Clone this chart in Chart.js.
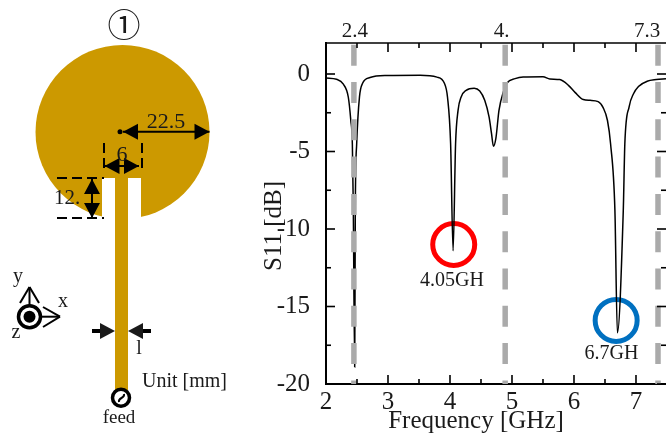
<!DOCTYPE html>
<html>
<head>
<meta charset="utf-8">
<style>
html,body{margin:0;padding:0;background:#fff;}
#wrap{width:666px;height:441px;position:relative;overflow:hidden;}
</style>
<script src="https://cdn.jsdelivr.net/npm/chart.js@4"></script>
</head>
<body>
<div id="wrap"><canvas id="grafico" width="666" height="441"></canvas></div>
<script>
// curva S11
var freqs = [2.0,2.17,2.28,2.36,2.40,2.425,2.44,2.463,2.473,2.495,2.54,2.59,2.71,2.98,3.52,3.79,3.91,3.96,4.01,4.05,4.09,4.13,4.18,4.26,4.39,4.48,4.56,4.63,4.67,4.70,4.74,4.79,4.86,4.92,5.05,5.18,5.5,5.61,5.77,5.91,6.02,6.15,6.26,6.39,6.47,6.54,6.59,6.66,6.70,6.795,6.82,6.89,6.96,7.04,7.18,7.33,7.484];
var s11 = [-0.26,-0.34,-0.66,-1.5,-3,-4.5,-8.5,-18.9,-8.5,-4.5,-1.48,-0.6,-0.23,-0.1,-0.08,-0.2,-0.6,-1.5,-4.5,-11.4,-4.5,-2.35,-1.48,-1.05,-0.92,-1.1,-1.7,-2.77,-3.85,-4.66,-4.15,-2.34,-1.16,-0.58,-0.3,-0.19,-0.17,-0.32,-0.36,-0.73,-1.2,-1.65,-1.7,-1.78,-2.17,-3,-4.5,-8.8,-16.7,-8.8,-4.5,-2.1,-1.27,-0.8,-0.47,-0.36,-0.3];
var bandFreqs = [2.45,4.89,7.355];
var bandLabels = ["2.4","4.","7.3"];
var markFreqs = [4.06,6.68];
var markDb = [-11,-15.9];
var markColors = ["#ff0000","#0070c0"];
var markLabels = ["4.05GH","6.7GH"];
var xMayor = [2,3,4,5,6,7];
var xMenor = [2.5,3.5,4.5,5.5,6.5];
var yMayor = [0,-5,-10,-15,-20];
var yMenor = [-2.5,-7.5,-12.5,-17.5];

var serif = "'Liberation Serif'";
var texto = "#1a1a1a";
var oro = "#cc9900";

function escribe(ctx,s,x,y,size,align){
    ctx.font = size+"px "+serif;
    ctx.fillStyle = texto;
    ctx.textAlign = align||"center";
    ctx.textBaseline = "alphabetic";
    ctx.fillText(s,x,y);
}
function flecha(ctx,x1,y1,x2,y2,largo,ancho){
    // punta rellena en (x2,y2)
    var a = Math.atan2(y2-y1,x2-x1);
    ctx.beginPath();
    ctx.moveTo(x2,y2);
    ctx.lineTo(x2-largo*Math.cos(a)+ancho/2*Math.sin(a),y2-largo*Math.sin(a)-ancho/2*Math.cos(a));
    ctx.lineTo(x2-largo*Math.cos(a)-ancho/2*Math.sin(a),y2-largo*Math.sin(a)+ancho/2*Math.cos(a));
    ctx.closePath();
    ctx.fill();
}
function doble(ctx,x1,y1,x2,y2){
    ctx.beginPath();ctx.moveTo(x1,y1);ctx.lineTo(x2,y2);ctx.stroke();
    flecha(ctx,x1,y1,x2,y2,15,16);
    flecha(ctx,x2,y2,x1,y1,15,16);
}
function raya(ctx,x1,y1,x2,y2){
    ctx.beginPath();ctx.moveTo(x1,y1);ctx.lineTo(x2,y2);ctx.stroke();
}

// marcas hacia dentro en los cuatro lados
var marcas = {
    id:"marcas",
    afterDraw:function(chart){
        var ctx = chart.ctx, a = chart.chartArea, sx = chart.scales.x, sy = chart.scales.y;
        ctx.save();
        ctx.strokeStyle = "#000";
        ctx.lineWidth = 1.6;
        raya(ctx,a.left,a.top,a.right,a.top);
        function enX(v,l){
            var p = sx.getPixelForValue(v);
            raya(ctx,p,a.bottom,p,a.bottom-l);
            raya(ctx,p,a.top,p,a.top+l);
        }
        function enY(v,l){
            var p = sy.getPixelForValue(v);
            raya(ctx,a.left,p,a.left+l,p);
            raya(ctx,a.right,p,a.right-l,p);
        }
        xMayor.forEach(function(v){enX(v,9);});
        xMenor.forEach(function(v){enX(v,5);});
        yMayor.forEach(function(v){enY(v,9);});
        yMenor.forEach(function(v){enY(v,5);});

        bandFreqs.forEach(function(f,i){
            var off = [1,-3.5,-11][i];
            escribe(ctx,bandLabels[i],sx.getPixelForValue(f)+off,37,21);
        });
        escribe(ctx,markLabels[0],452,286,20);
        escribe(ctx,markLabels[1],611.5,358.7,20);
        escribe(ctx,"Frequency [GHz]",476,428,25);
        ctx.save();
        ctx.translate(281,226);
        ctx.rotate(-Math.PI/2);
        escribe(ctx,"S11 [dB]",0,0,25);
        ctx.restore();
        ctx.restore();
    }
};

// esquema de la antena
var antena = {
    id:"antena",
    afterDraw:function(chart){
        var ctx = chart.ctx;
        ctx.save();
        ctx.fillStyle = oro;
        ctx.beginPath();ctx.arc(122.5,132,87,0,Math.PI*2);ctx.fill();
        ctx.fillStyle = "#fff";
        ctx.fillRect(102,178,39,50);
        ctx.fillStyle = oro;
        ctx.fillRect(115,178,13,212);

        ctx.fillStyle = "#000";
        ctx.strokeStyle = "#000";
        ctx.lineWidth = 2;
        ctx.setLineDash([10,5]);
        raya(ctx,104,143,104,172);
        raya(ctx,142,143,142,172);
        raya(ctx,57,178,104,178);
        raya(ctx,57,218,104,218);
        ctx.setLineDash([]);

        ctx.beginPath();ctx.arc(120,131.7,2.5,0,Math.PI*2);ctx.fill();
        doble(ctx,123,131.7,209.5,131.7);
        doble(ctx,104.5,166,139,166);
        doble(ctx,92,179,92,218);

        escribe(ctx,"22.5",166,128,22);
        escribe(ctx,"6",122,161,22);
        escribe(ctx,"12.",67,204,21);

        ctx.font = "33px 'Noto Sans CJK JP'";
        ctx.fillStyle = texto;
        ctx.textAlign = "center";
        ctx.textBaseline = "middle";
        ctx.fillText("①",124,24);

        // ancho de la linea
        ctx.lineWidth = 4;
        raya(ctx,92,331,102,331);
        raya(ctx,141,331,151,331);
        flecha(ctx,92,331,115,331,15,16);
        flecha(ctx,151,331,128,331,15,16);
        escribe(ctx,"l",139,354,20);
        escribe(ctx,"Unit [mm]",142,387,20,"left");

        // feed
        ctx.fillStyle = "#fff";
        ctx.lineWidth = 3.5;
        ctx.beginPath();ctx.arc(121,397.7,8.5,0,Math.PI*2);ctx.fill();ctx.stroke();
        ctx.lineWidth = 2;
        ctx.beginPath();
        ctx.moveTo(119,402);
        ctx.bezierCurveTo(118,397,125,399,124,394);
        ctx.stroke();
        escribe(ctx,"feed",119,423,19);

        // ejes xyz
        ctx.lineWidth = 3.5;
        ctx.beginPath();ctx.arc(29.5,316.7,11,0,Math.PI*2);ctx.stroke();
        ctx.fillStyle = "#000";
        ctx.beginPath();ctx.arc(29.5,316.7,6,0,Math.PI*2);ctx.fill();
        ctx.lineWidth = 2;
        raya(ctx,29.5,305,29.5,287);
        raya(ctx,20,303,29.5,287);
        raya(ctx,39,303,29.5,287);
        raya(ctx,41,316.7,60,316.7);
        raya(ctx,43,307,60,316.7);
        raya(ctx,43,327,60,316.7);
        escribe(ctx,"y",18,282,20);
        escribe(ctx,"x",63,307,20);
        escribe(ctx,"z",16,338,20);
        ctx.restore();
    }
};

var datasets = [{
    label:"S11",
    data:freqs.map(function(f,i){return {x:f,y:s11[i]};}),
    borderColor:"#000",
    borderWidth:1.5,
    pointRadius:0,
    cubicInterpolationMode:"monotone",
    order:2
}];
bandFreqs.forEach(function(f){
    datasets.push({
        label:"banda "+f,
        data:[{x:f,y:2},{x:f,y:-20}],
        borderColor:"#aaaaaa",
        borderWidth:5.5,
        borderDash:[21,16.3],
        borderDashOffset:-1.7,
        pointRadius:0,
        order:1
    });
});
markFreqs.forEach(function(f,i){
    datasets.push({
        label:markLabels[i],
        data:[{x:f,y:markDb[i]}],
        showLine:false,
        pointRadius:21,
        pointBorderWidth:5,
        pointBorderColor:markColors[i],
        pointBackgroundColor:"rgba(0,0,0,0)",
        order:3
    });
});

var chart = new Chart(document.getElementById("grafico").getContext("2d"),{
    type:"line",
    plugins:[antena,marcas],
    data:{datasets:datasets},
    options:{
        responsive:false,
        devicePixelRatio:1,
        animation:false,
        layout:{autoPadding:false,padding:{top:43,right:0,left:0,bottom:0}},
        plugins:{legend:{display:false},tooltip:{enabled:false}},
        scales:{
            x:{
                type:"linear",
                min:2,
                max:7.484,
                grid:{display:false},
                border:{color:"#000",width:2},
                afterFit:function(s){s.height=57;s.paddingLeft=0;s.paddingRight=0;},
                ticks:{
                    stepSize:1,
                    includeBounds:false,
                    maxRotation:0,
                    padding:-5,
                    color:texto,
                    font:{family:"Liberation Serif",size:25}
                }
            },
            y:{
                min:-20,
                max:2,
                grid:{display:false},
                border:{color:"#000",width:2},
                afterFit:function(s){s.width=326;s.paddingTop=0;s.paddingBottom=0;},
                ticks:{
                    stepSize:5,
                    includeBounds:false,
                    padding:8,
                    color:texto,
                    font:{family:"Liberation Serif",size:25},
                    callback:function(v){return String(v);}
                }
            }
        }
    }
});
</script>
</body>
</html>
